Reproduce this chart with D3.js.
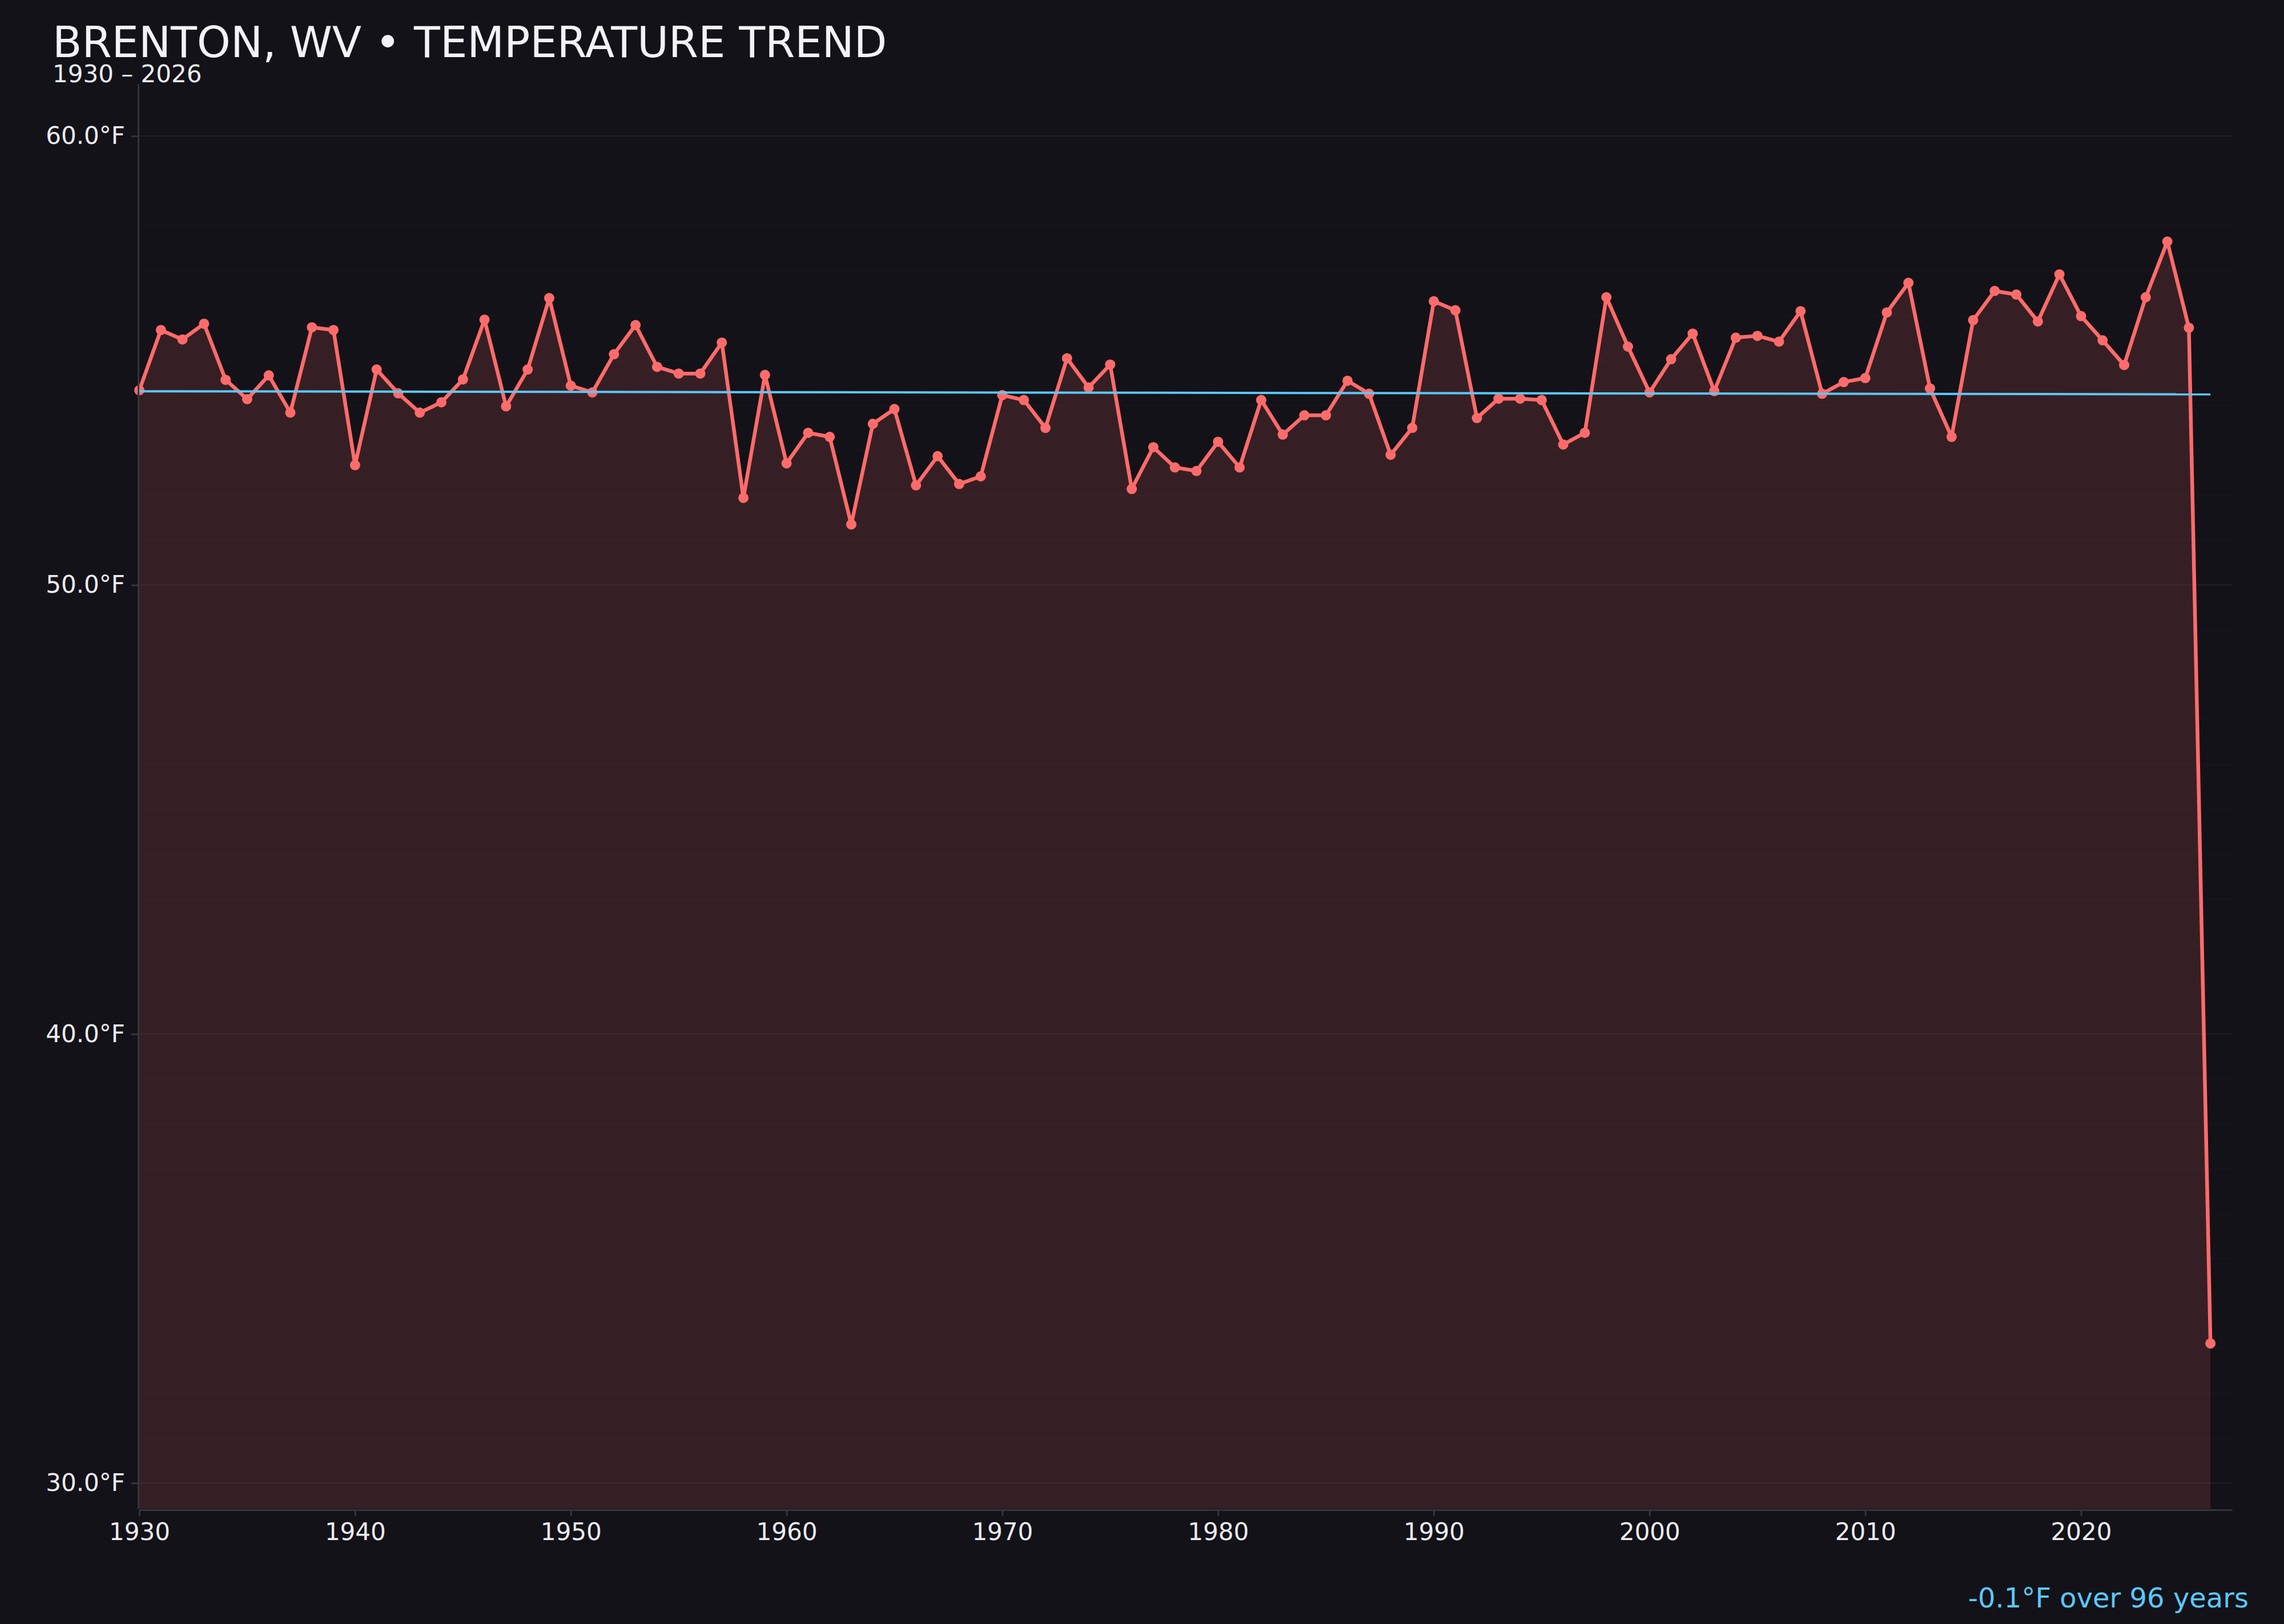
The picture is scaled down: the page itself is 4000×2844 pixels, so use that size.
<!DOCTYPE html>
<html>
<head>
<meta charset="utf-8">
<script src="https://cdn.jsdelivr.net/npm/d3@7"></script>
<style>
  html, body { margin: 0; padding: 0; background: #131218; }
  svg { display: block; }
  text { font-family: "DejaVu Sans", sans-serif; }
</style>
</head>
<body>
<script>
// ---- Data ----
const years = d3.range(1930, 2027);
const temps = [
  54.34, 55.68, 55.47, 55.82, 54.57, 54.14, 54.67, 53.84, 55.74, 55.68,
  52.67, 54.80, 54.27, 53.84, 54.07, 54.58, 55.91, 53.98, 54.80, 56.39,
  54.44, 54.29, 55.14, 55.79, 54.86, 54.71, 54.71, 55.40, 51.94, 54.68,
  52.71, 53.39, 53.30, 51.35, 53.59, 53.92, 52.22, 52.87, 52.25, 52.42,
  54.23, 54.12, 53.50, 55.05, 54.40, 54.91, 52.14, 53.07, 52.62, 52.54,
  53.19, 52.62, 54.12, 53.35, 53.78, 53.78, 54.55, 54.26, 52.90, 53.50,
  56.32, 56.12, 53.72, 54.15, 54.15, 54.12, 53.13, 53.39, 56.41, 55.31,
  54.29, 55.03, 55.60, 54.32, 55.51, 55.55, 55.42, 56.10, 54.26, 54.52,
  54.61, 56.07, 56.73, 54.38, 53.30, 55.90, 56.55, 56.47, 55.87, 56.92,
  55.99, 55.45, 54.90, 56.41, 57.65, 55.73, 33.11
];
const xTickYears = [1930, 1940, 1950, 1960, 1970, 1980, 1990, 2000, 2010, 2020];
const yTickTemps = [30, 40, 50, 60];
const titleText = "BRENTON, WV \u2022 TEMPERATURE TREND";
const subtitleText = "1930 \u2013 2026";
const trendLabel = "-0.1\u00B0F over 96 years";

// ---- Layout ----
const W = 4000, H = 2844;
const mLeft = 244, mRight = 3909, mTop = 147, mBottom = 2642;

const data = years.map((yr, i) => ({ year: yr, t: temps[i] }));

const x = d3.scaleLinear().domain([1930, 2027]).range([mLeft, mRight]);
const y = d3.scaleLinear().domain([29.43, 61.16]).range([mBottom, mTop]);

const svg = d3.select("body").append("svg")
  .attr("width", W).attr("height", H)
  .style("background", "#131218");

// gridlines every 1°F
const gridVals = d3.range(30, 62);
svg.append("g").selectAll("line").data(gridVals).join("line")
  .attr("x1", mLeft).attr("x2", mRight)
  .attr("y1", d => y(d)).attr("y2", d => y(d))
  .attr("stroke", d => d % 10 === 0 ? "rgba(255,255,255,0.06)" : "rgba(255,255,255,0.02)")
  .attr("stroke-width", 2);

// area
const area = d3.area().x(d => x(d.year)).y0(mBottom).y1(d => y(d.t));
svg.append("path").datum(data)
  .attr("d", area)
  .attr("fill", "#ff6b6b").attr("fill-opacity", 0.15);

// line
const line = d3.line().x(d => x(d.year)).y(d => y(d.t));
svg.append("path").datum(data)
  .attr("d", line)
  .attr("fill", "none")
  .attr("stroke", "#ff6b6b")
  .attr("stroke-width", 6.5)
  .attr("stroke-linejoin", "round");

// dots
svg.append("g").selectAll("circle").data(data).join("circle")
  .attr("cx", d => x(d.year)).attr("cy", d => y(d.t))
  .attr("r", 9).attr("fill", "#ff6b6b");

// trend (linear regression)
const mx = d3.mean(data, d => d.year), my = d3.mean(data, d => d.t);
const sxy = d3.sum(data, d => (d.year - mx) * (d.t - my));
const sxx = d3.sum(data, d => (d.year - mx) ** 2);
const slope = sxy / sxx, icpt = my - slope * mx;
const trendPts = [1930, 2026].map(yr => ({ year: yr, t: icpt + slope * yr }));
svg.append("path").datum(trendPts)
  .attr("d", line)
  .attr("fill", "none")
  .attr("stroke", "#5ac8fa")
  .attr("stroke-width", 4);

// axes
const axisColor = "#34343f";
const xAxis = d3.axisBottom(x).tickValues(xTickYears).tickFormat(d3.format("d"))
  .tickSize(11).tickSizeOuter(0).tickPadding(12);
const gx = svg.append("g").attr("transform", `translate(0,${mBottom + 2})`).call(xAxis);
gx.select(".domain").attr("stroke", axisColor).attr("stroke-width", 3);
gx.selectAll(".tick line").attr("stroke", axisColor).attr("stroke-width", 3);
gx.selectAll(".tick text").attr("fill", "#ececf1").attr("font-size", 42)
  .attr("font-family", "DejaVu Sans");

const yAxis = d3.axisLeft(y).tickValues(yTickTemps).tickFormat(d => d3.format(".1f")(d) + "\u00B0F")
  .tickSize(12).tickSizeOuter(0).tickPadding(11);
const gy = svg.append("g").attr("transform", `translate(${mLeft - 2},0)`).call(yAxis);
gy.select(".domain").attr("stroke", axisColor).attr("stroke-width", 3);
gy.selectAll(".tick line").attr("stroke", axisColor).attr("stroke-width", 3);
gy.selectAll(".tick text").attr("fill", "#ececf1").attr("font-size", 42)
  .attr("font-family", "DejaVu Sans");

// titles
svg.append("text").attr("x", 92).attr("y", 100)
  .attr("font-size", 75).attr("fill", "#f2f2f7").text(titleText);
svg.append("text").attr("x", 92).attr("y", 144)
  .attr("font-size", 42).attr("fill", "#ececf1").text(subtitleText);

// trend label
svg.append("text").attr("x", 3938).attr("y", 2815)
  .attr("text-anchor", "end")
  .attr("font-size", 48).attr("fill", "#5ac8fa").text(trendLabel);
</script>
</body>
</html>
